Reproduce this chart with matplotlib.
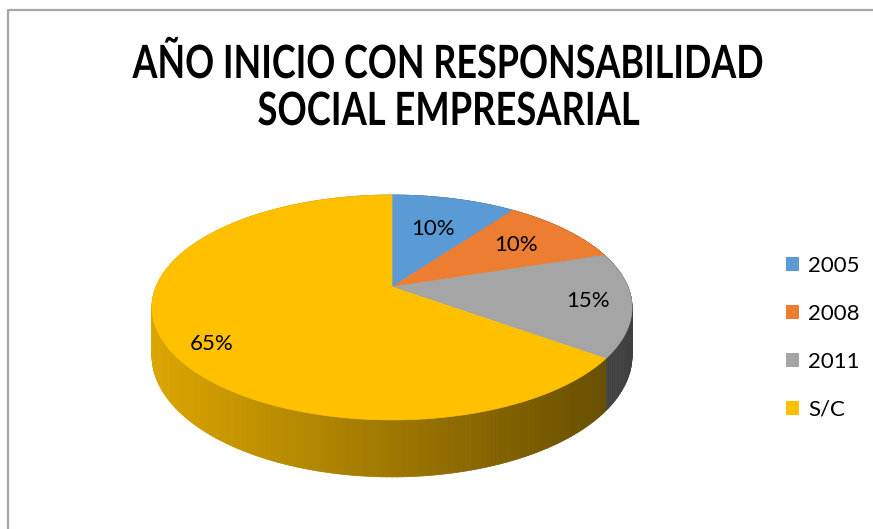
import numpy as np
import matplotlib.pyplot as plt
from matplotlib.patches import Polygon, Rectangle
from matplotlib.collections import PolyCollection
from matplotlib.colors import to_rgb
from matplotlib.transforms import Affine2D
import matplotlib.patheffects as pe

labels = ["2005", "2008", "2011", "S/C"]
shares = [10, 10, 15, 65]
colors = ["#5B9BD5", "#ED7D31", "#A5A5A5", "#FFC000"]

title_lines = ["AÑO INICIO CON RESPONSABILIDAD", "SOCIAL EMPRESARIAL"]
title_widths = [633, 383]   # px wanted for each title line
title_base = [78, 125]      # baseline of each line, px from top

# label placement (fraction of radius, extra downward shift in px)
lab_r = [0.62, 0.7, 0.82, 0.8]
lab_dy = [0, 0, 0, 15]

# perspective disc: centre, half-width, tilt, thickness (pixel space)
cx, cy = 392, 287
sx, p, k = 236, -56.5, 0.182
depth = 46.6


def project(theta, r=1.0, drop=0.0):
    u, v = r * np.sin(theta), r * np.cos(theta)
    w = 1 + k * v
    return cx + sx * u / w, (cy + p * v + drop) / w


def shade(col, x):
    f = np.clip(0.86 - 0.48 * (x - 153) / (632 - 153), 0.3, 1)
    return tuple(c * f for c in to_rgb(col))


class Squeeze(pe.AbstractPathEffect):
    """Narrow the glyphs horizontally about a fixed x (display px)."""

    def __init__(self, factor, x0):
        super().__init__()
        self.factor, self.x0 = factor, x0

    def draw_path(self, renderer, gc, tpath, affine, rgbFace=None):
        squeeze = Affine2D().translate(-self.x0, 0).scale(self.factor, 1).translate(self.x0, 0)
        renderer.draw_path(gc, tpath, affine + squeeze, rgbFace)


fig = plt.figure(figsize=(8.73, 5.29), dpi=100)
ax = fig.add_axes([0, 0, 1, 1])
ax.set_xlim(0, 873)
ax.set_ylim(529, 0)
ax.axis("off")

# chart border (only top and left are visible)
ax.plot([8, 8, 873], [529, 10, 10], color="#a6a6a6", lw=1.6, solid_capstyle="butt")

frac = np.array(shares) / sum(shares)
ends = np.cumsum(frac) * 2 * np.pi
starts = ends - frac * 2 * np.pi

# side wall, built from thin strips so it can be shaded left to right
quads, qcols, qkey = [], [], []
for a0, a1, col in zip(starts, ends, colors):
    n = max(int(np.degrees(a1 - a0)), 2)
    t = np.linspace(a0, a1, n + 1)
    xt, yt = project(t)
    xb, yb = project(t, drop=depth)
    for i in range(n):
        quads.append([(xt[i], yt[i]), (xt[i + 1], yt[i + 1]),
                      (xb[i + 1], yb[i + 1]), (xb[i], yb[i])])
        qcols.append(shade(col, (xt[i] + xt[i + 1]) / 2))
        qkey.append(np.cos((t[i] + t[i + 1]) / 2))
order = np.argsort(qkey)[::-1]
side = PolyCollection([quads[i] for i in order],
                      facecolors=[qcols[i] for i in order],
                      edgecolors=[qcols[i] for i in order], linewidths=0.6)
ax.add_collection(side)

# top face
c0 = project(0.0, r=0.0)
for a0, a1, col in zip(starts, ends, colors):
    t = np.linspace(a0, a1, 200)
    xs, ys = project(t)
    pts = [c0] + list(zip(xs, ys))
    ax.add_patch(Polygon(pts, closed=True, facecolor=col, edgecolor=col, lw=0.5))

for a0, a1, s, r, dy in zip(starts, ends, shares, lab_r, lab_dy):
    lx, ly = project((a0 + a1) / 2, r=r)
    ax.text(lx, ly + dy, f"{s}%", ha="center", va="center", fontsize=16,
            family=["Lato", "DejaVu Sans"], color="black")

# title: bold, squeezed to a condensed width
tx = 449
titles = [ax.text(tx, yb, line, ha="center", va="baseline", fontsize=33,
                  fontweight="bold", family=["Lato", "DejaVu Sans"])
          for line, yb in zip(title_lines, title_base)]
fig.canvas.draw()
for t, wanted in zip(titles, title_widths):
    factor = wanted / t.get_window_extent().width
    t.set_path_effects([Squeeze(factor, tx)])

handles = [Rectangle((0, 0), 1, 1, facecolor=c, edgecolor="none") for c in colors]
ax.legend(handles, labels, loc="upper left", bbox_to_anchor=(786 / 873, 1 - 256 / 529),
          frameon=False, borderpad=0, borderaxespad=0, handlelength=0.6,
          handleheight=0.6, handletextpad=0.4, labelspacing=1.26,
          prop={"family": ["Lato", "DejaVu Sans"], "size": 16})

fig.savefig("out.png", dpi=100)
